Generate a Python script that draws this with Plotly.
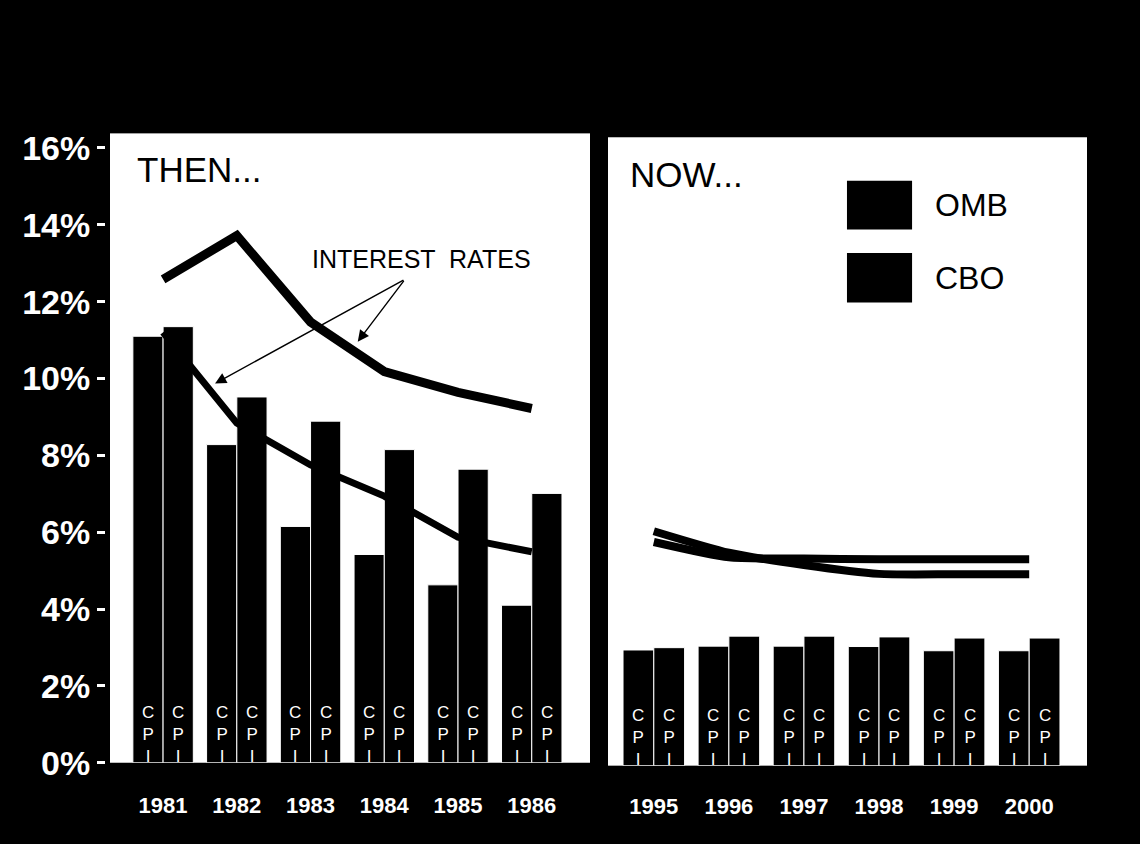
import plotly.graph_objects as go

# ---- data -------------------------------------------------------------
years_then = ["1981", "1982", "1983", "1984", "1985", "1986"]
omb_cpi_then = [11.1, 8.28, 6.15, 5.42, 4.63, 4.1]
cbo_cpi_then = [11.35, 9.52, 8.89, 8.15, 7.64, 7.01]
rate_high_then = [12.58, 13.72, 11.47, 10.18, 9.64, 9.22]
rate_low_then = [11.2, 8.84, 7.75, 6.94, 5.87, 5.49]

years_now = ["1995", "1996", "1997", "1998", "1999", "2000"]
omb_cpi_now = [3.01, 3.11, 3.11, 3.10, 2.99, 2.99]
cbo_cpi_now = [3.07, 3.37, 3.37, 3.35, 3.32, 3.32]
rate_a_now = [6.10, 5.54, 5.22, 4.99, 4.98, 4.98]
rate_b_now = [5.82, 5.42, 5.39, 5.37, 5.37, 5.37]

y_ticks = [0, 2, 4, 6, 8, 10, 12, 14, 16]
y_tick_text = [f"{v}%" for v in y_ticks]

# ---- style ------------------------------------------------------------
FONT = "Liberation Sans, Arial, Helvetica, sans-serif"
W, H = 1140, 844
BARGAP = 0.18

fig = go.Figure()

# interest-rate lines go in first so the bars are painted over them
for ys, w in ((rate_high_then, 9), (rate_low_then, 7)):
    fig.add_trace(go.Scatter(x=years_then, y=ys, mode="lines",
                             line=dict(color="black", width=w),
                             xaxis="x", yaxis="y", hoverinfo="skip"))
for ys in (rate_a_now, rate_b_now):
    fig.add_trace(go.Scatter(x=years_now, y=ys, mode="lines",
                             line=dict(color="black", width=8, shape="spline", smoothing=0.6),
                             xaxis="x2", yaxis="y2", hoverinfo="skip"))

bar_marker = dict(color="black", line=dict(color="white", width=1))
for xs, omb, cbo, xa, ya in ((years_then, omb_cpi_then, cbo_cpi_then, "x", "y"),
                             (years_now, omb_cpi_now, cbo_cpi_now, "x2", "y2")):
    fig.add_trace(go.Bar(x=xs, y=omb, name="OMB", marker=bar_marker, xaxis=xa, yaxis=ya))
    fig.add_trace(go.Bar(x=xs, y=cbo, name="CBO", marker=bar_marker, xaxis=xa, yaxis=ya))

# ---- "CPI" lettering on each bar -------------------------------------
annotations = []
panels = ((years_then, "x", "y", 480 / 6.51), (years_now, "x2", "y2", 479 / 6.38))
for xs, xa, ya, px_per_cat in panels:
    half = (1 - BARGAP) / 4 * px_per_cat
    for i, _ in enumerate(xs):
        for shift in (-half, half):
            annotations.append(dict(
                x=i, y=0, xref=xa, yref=ya, xshift=shift, yshift=-5,
                yanchor="bottom", showarrow=False, text="C<br>P<br>I",
                font=dict(family=FONT, size=17, color="white")))

# panel headings
annotations.append(dict(x=-0.38, y=15.44, xref="x", yref="y", xanchor="left",
                        text="THEN...", showarrow=False,
                        font=dict(family=FONT, size=35, color="black")))
annotations.append(dict(x=-0.35, y=15.39, xref="x2", yref="y2", xanchor="left",
                        text="NOW...", showarrow=False,
                        font=dict(family=FONT, size=35, color="black")))

# interest-rate callout
annotations.append(dict(x=3.5, y=13.11, xref="x", yref="y", text="INTEREST  RATES",
                        showarrow=False, font=dict(family=FONT, size=25, color="black")))
for hx, hy in ((0.705, 9.87), (2.64, 10.96)):
    annotations.append(dict(x=hx, y=hy, xref="x", yref="y",
                            ax=3.28, ay=12.58, axref="x", ayref="y",
                            text="", showarrow=True, arrowhead=2, arrowsize=1.6,
                            arrowwidth=1.4, arrowcolor="black"))

# legend key (large square swatches)
shapes = []
for name, y0, y1, ty in (("OMB", 13.95, 15.22, 14.58), ("CBO", 12.05, 13.34, 12.68)):
    shapes.append(dict(type="rect", xref="x2", yref="y2", x0=2.573, x1=3.44,
                       y0=y0, y1=y1, fillcolor="black", line=dict(width=0)))
    annotations.append(dict(x=3.72, y=ty, xref="x2", yref="y2", xanchor="left",
                            text=name, showarrow=False,
                            font=dict(family=FONT, size=32, color="black")))

year_font = dict(family=FONT, size=22, color="white", weight="bold")

fig.update_layout(
    width=W, height=H,
    margin=dict(l=0, r=0, t=0, b=0),
    paper_bgcolor="black", plot_bgcolor="white",
    showlegend=False,
    barmode="group", bargap=BARGAP, bargroupgap=0,
    xaxis=dict(domain=[110 / W, 590 / W], range=[-0.72, 5.79], type="category",
               anchor="y", showgrid=False, zeroline=False, showline=False,
               ticks="", tickfont=year_font, ticklabelstandoff=27),
    yaxis=dict(domain=[64 / H, 711 / H], range=[0, 16.38], anchor="free",
               position=105 / W, showgrid=False, zeroline=False, showline=False,
               tickvals=y_ticks, ticktext=y_tick_text, ticks="outside",
               ticklen=8, tickwidth=3, tickcolor="white",
               tickfont=dict(family=FONT, size=34, color="white", weight="bold")),
    xaxis2=dict(domain=[608 / W, 1087 / W], range=[-0.61, 5.77], type="category",
                anchor="y2", showgrid=False, zeroline=False, showline=False,
                ticks="", tickfont=year_font, ticklabelstandoff=25),
    yaxis2=dict(domain=[61 / H, 707 / H], range=[0, 16.35], anchor="x2",
                showgrid=False, zeroline=False, showline=False,
                showticklabels=False, ticks=""),
    annotations=annotations,
    shapes=shapes,
)

fig.write_html("out.html")
